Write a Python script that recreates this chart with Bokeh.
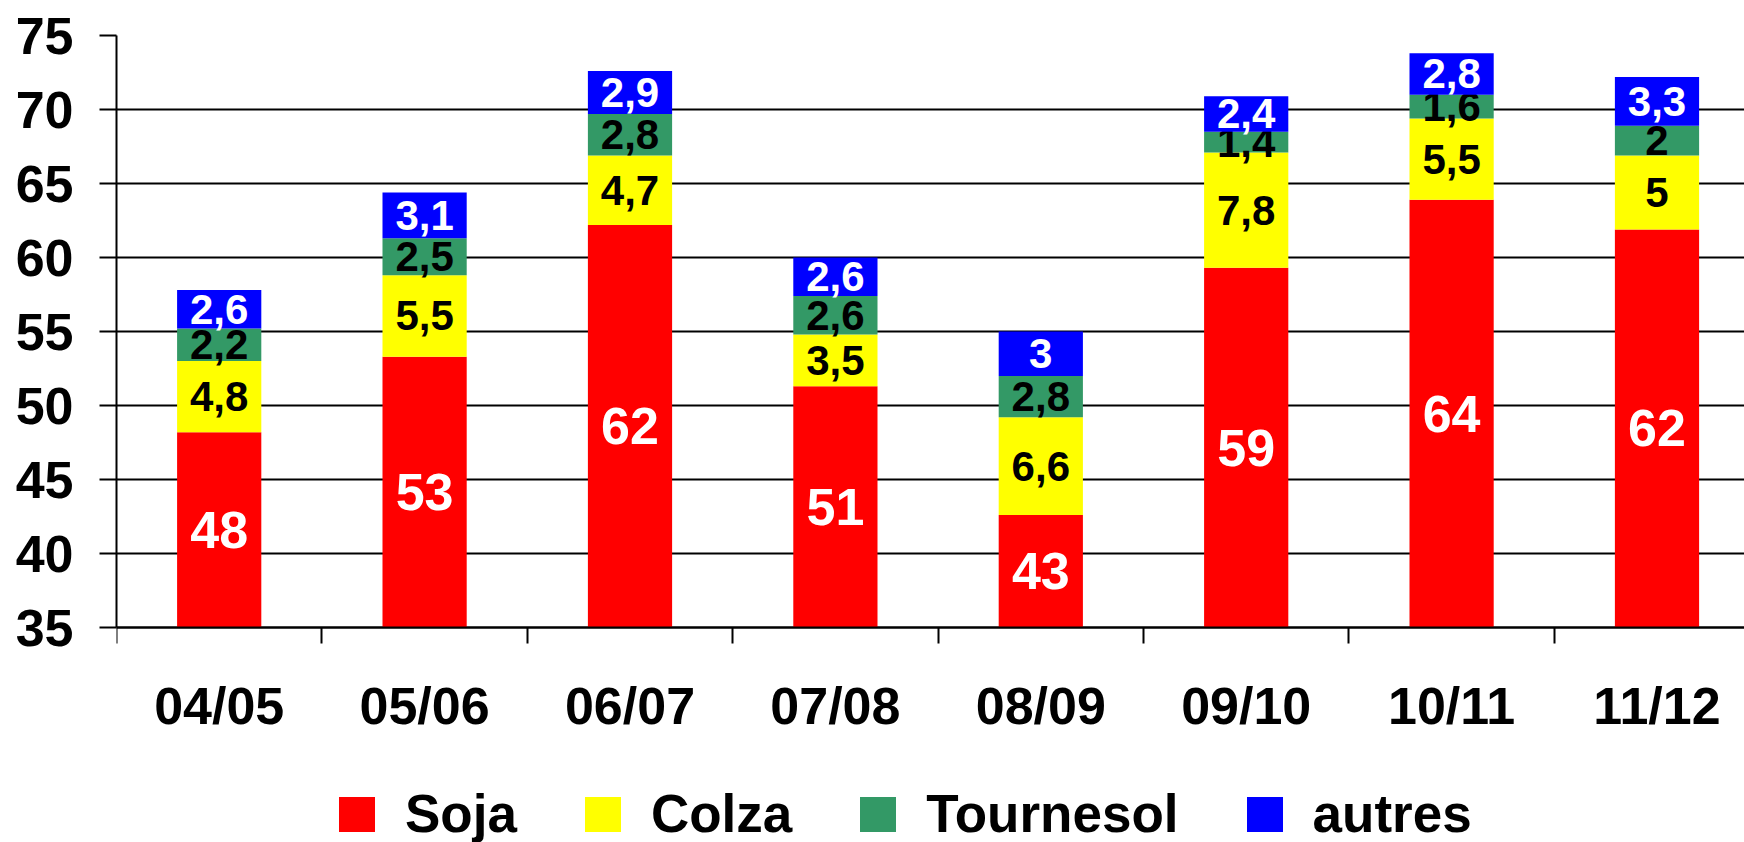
from bokeh.plotting import figure
from bokeh.models import (Range1d, FixedTicker, Legend, LegendItem,
                          ColumnDataSource, LinearAxis)
from bokeh.core.properties import value
from bokeh.embed import file_html
from bokeh.resources import INLINE

# ---- data ----
categories = ["04/05", "05/06", "06/07", "07/08", "08/09", "09/10", "10/11", "11/12"]
soja = [48.2, 53.3, 62.2, 51.3, 42.6, 59.3, 63.9, 61.9]
colza = [4.8, 5.5, 4.7, 3.5, 6.6, 7.8, 5.5, 5]
tournesol = [2.2, 2.5, 2.8, 2.6, 2.8, 1.4, 1.6, 2]
autres = [2.6, 3.1, 2.9, 2.6, 3, 2.4, 2.8, 3.3]
series_names = ["Soja", "Colza", "Tournesol", "autres"]
series_values = [soja, colza, tournesol, autres]
y_ticks = [35, 40, 45, 50, 55, 60, 65, 70, 75]

# ---- styles ----
colors = ["#FF0000", "#FFFF00", "#339966", "#0000FF"]
label_colors = ["white", "black", "black", "white"]
label_sizes = ["52px", "42px", "42px", "42px"]
FONT = "Liberation Sans"

Y_START, Y_END = 35, 75          # visible value axis
PX_PER_UNIT = 14.8
FRAME_TOP = 35
FIG_W, FIG_H = 1744, 842
Y_LOW = Y_END - (FIG_H - FRAME_TOP) / PX_PER_UNIT   # extra room below for labels/legend
X_END = 7.926
BAR_W = 0.41

centers = [i + 0.5 for i in range(len(categories))]
boundaries = list(range(len(categories)))

p = figure(width=FIG_W, height=FIG_H,
           x_range=Range1d(0, X_END), y_range=Range1d(Y_LOW, Y_END),
           output_backend="svg", toolbar_location=None, x_axis_location=None,
           min_border_left=116, min_border_top=FRAME_TOP, min_border_right=0,
           min_border_bottom=0)
p.outline_line_color = None
p.background_fill_color = "white"
p.border_fill_color = "white"

def fmt(v, integer=False):
    if integer:
        return str(int(round(v)))
    return ("%g" % v).replace(".", ",")

bottoms = [0.0] * len(categories)
renderers = []
for k, (name, vals) in enumerate(zip(series_names, series_values)):
    tops = [b + v for b, v in zip(bottoms, vals)]
    vis_bottoms = [max(b, Y_START) for b in bottoms]
    src = ColumnDataSource(dict(
        x=centers, bottom=vis_bottoms, top=tops,
        ty=[(b + t) / 2 for b, t in zip(vis_bottoms, tops)],
        label=[fmt(v, integer=(k == 0)) for v in vals],
    ))
    r = p.vbar(x="x", bottom="bottom", top="top", width=BAR_W, source=src,
               fill_color=colors[k], line_color=None)
    p.text(x="x", y="ty", text="label", source=src,
           text_align="center", text_baseline="middle",
           text_color=label_colors[k], text_font=value(FONT),
           text_font_style=value("bold"), text_font_size=value(label_sizes[k]))
    renderers.append(r)
    bottoms = tops

# grid
for g in p.xgrid:
    g.grid_line_color = None
p.ygrid.ticker = FixedTicker(ticks=y_ticks)
p.ygrid.grid_line_color = "black"
p.ygrid.grid_line_width = 2
p.ygrid.level = "underlay"

# y axis
ya = p.yaxis[0]
ya.ticker = FixedTicker(ticks=y_ticks)
ya.bounds = (Y_START, Y_END)
ya.axis_line_width = 2
ya.axis_line_color = "black"
ya.major_tick_out = 17
ya.major_tick_in = 0
ya.major_tick_line_width = 2
ya.minor_tick_line_color = None
ya.major_label_standoff = 26
ya.major_label_text_font = FONT
ya.major_label_text_font_style = "bold"
ya.major_label_text_font_size = "52px"
ya.major_label_text_color = "black"

# x axis, fixed on the value 35 inside the frame
xa = LinearAxis(fixed_location=Y_START,
                ticker=FixedTicker(ticks=centers, minor_ticks=boundaries))
xa.major_label_overrides = {c: cat for c, cat in zip(centers, categories)}
xa.axis_line_width = 2
xa.axis_line_color = "black"
xa.major_tick_line_color = None
xa.major_tick_out = 16
xa.major_tick_in = 0
xa.minor_tick_out = 16
xa.minor_tick_in = 0
xa.minor_tick_line_width = 2
xa.minor_tick_line_color = "black"
xa.major_label_standoff = 33
xa.major_label_text_font = FONT
xa.major_label_text_font_style = "bold"
xa.major_label_text_font_size = "52px"
xa.major_label_text_color = "black"
p.add_layout(xa, "below")

# legend (bar legend glyphs are inset by 10% of the glyph box)
legend = Legend(
    items=[LegendItem(label=n, renderers=[r]) for n, r in zip(series_names, renderers)],
    orientation="horizontal", location=(218, -2),
    glyph_width=45, glyph_height=44, label_standoff=26, spacing=63,
    padding=0, margin=0, border_line_color=None, background_fill_alpha=0,
    label_text_font=FONT, label_text_font_style="bold",
    label_text_font_size="53px", label_text_color="black",
)
p.add_layout(legend, "center")

open("out.html", "w").write(file_html(p, INLINE))
